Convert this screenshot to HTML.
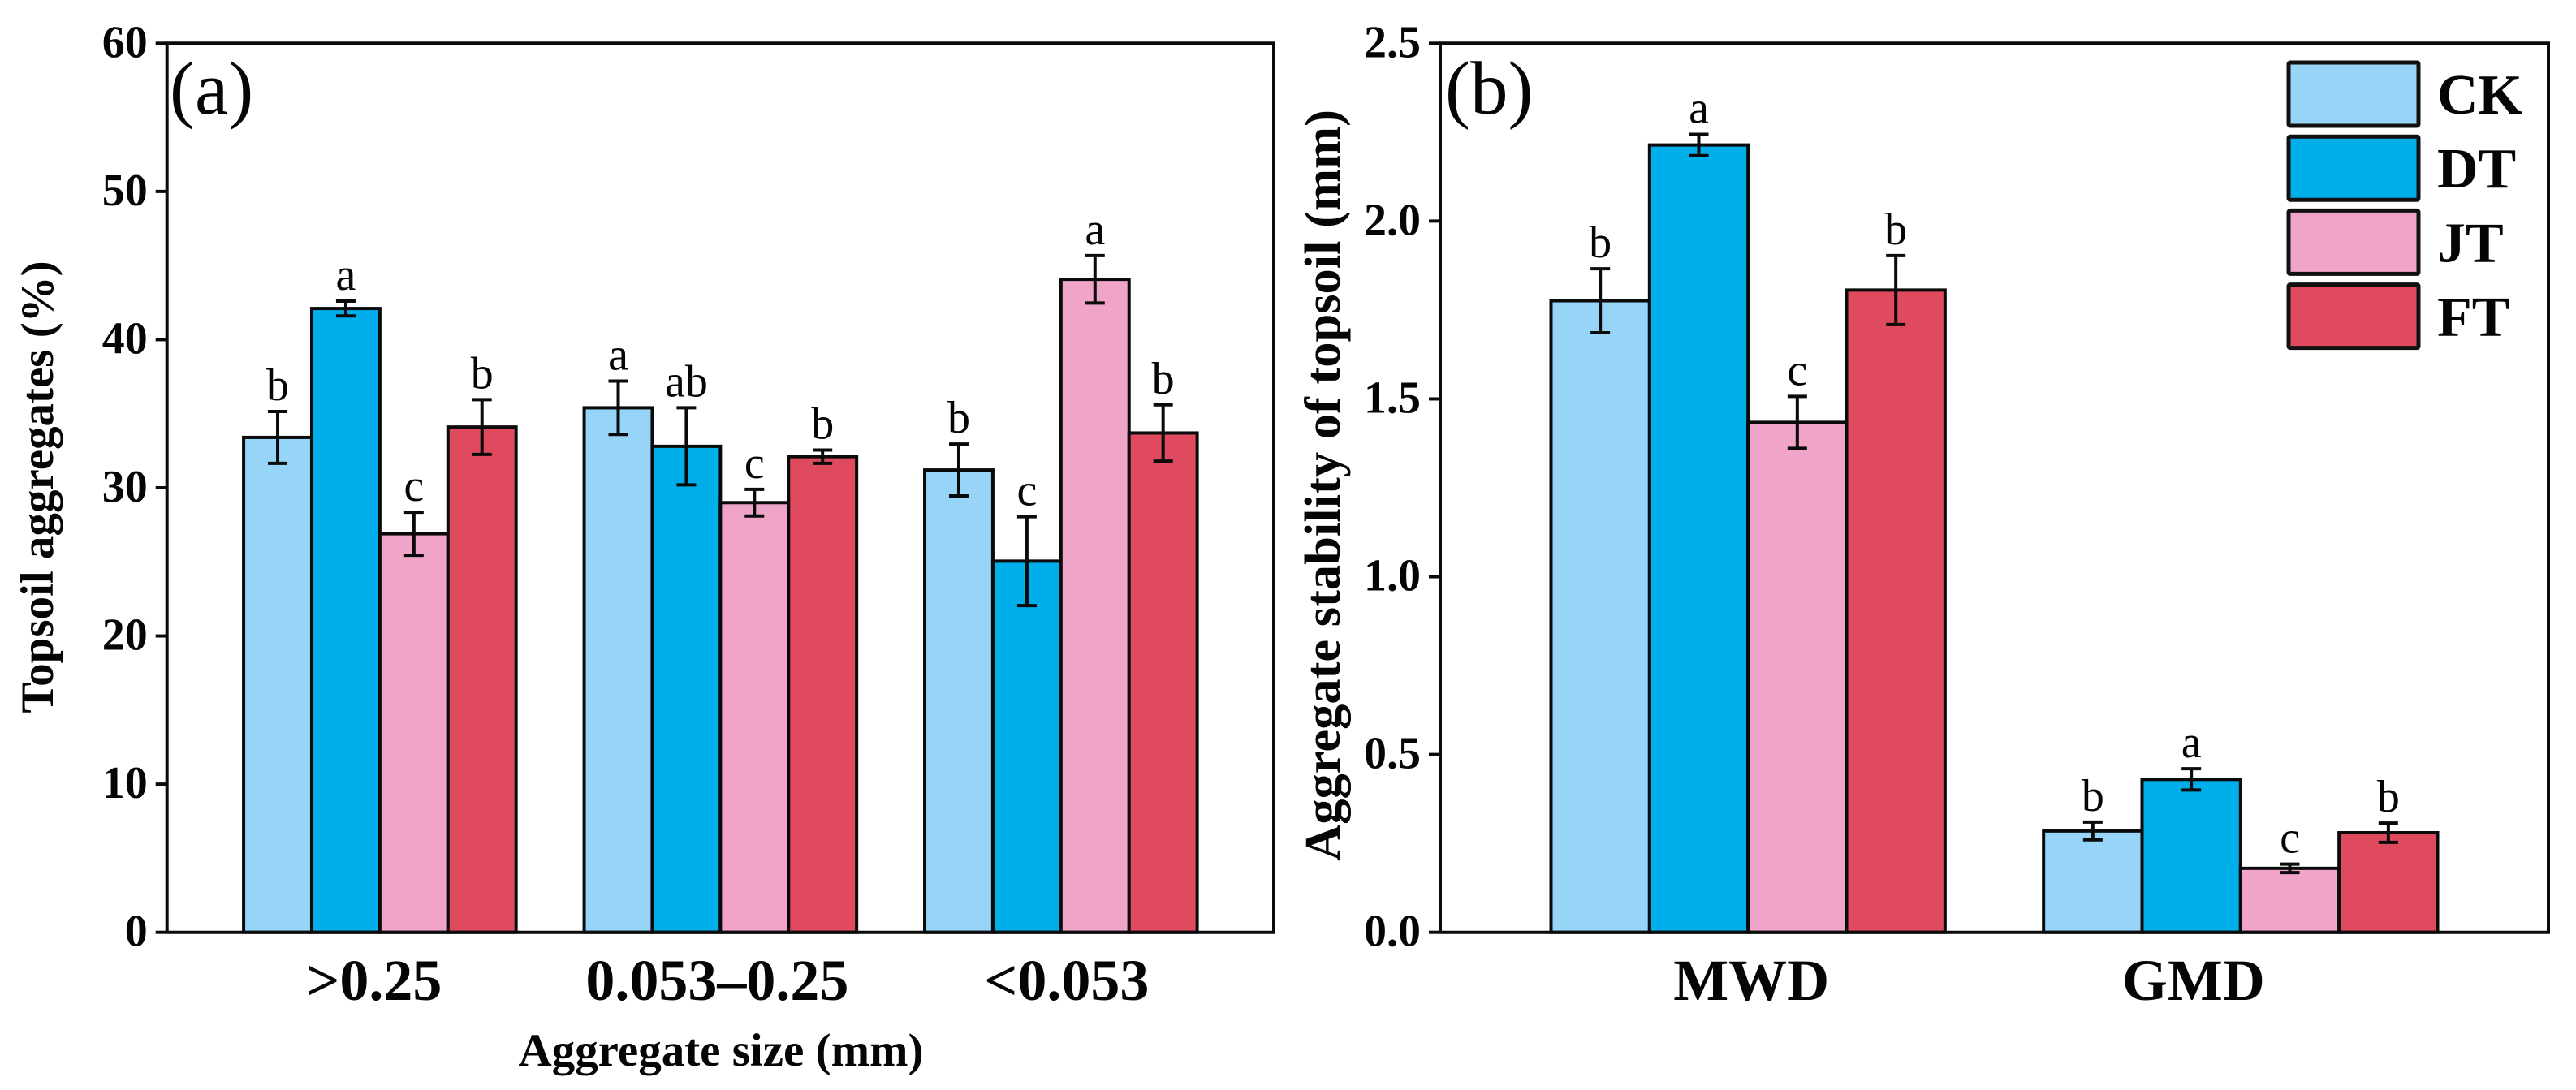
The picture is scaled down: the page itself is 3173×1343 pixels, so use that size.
<!DOCTYPE html>
<html lang="en">
<head>
<meta charset="utf-8">
<title>Topsoil aggregates and aggregate stability</title>
<style>
html,body{margin:0;padding:0;background:#fff;}
svg{display:block;}
text{font-family:"Liberation Serif","Times New Roman",serif;fill:#050505;}
.tick{font-size:56px;font-weight:bold;text-anchor:end;}
.cat{font-size:72px;font-weight:bold;text-anchor:middle;}
.sig{font-size:56px;text-anchor:middle;}
.panel{font-size:93px;}
.legend{font-size:70px;font-weight:bold;}
</style>
</head>
<body>
<svg id="chart" xmlns="http://www.w3.org/2000/svg" width="3173" height="1343" viewBox="0 0 3173 1343">
  <rect x="0" y="0" width="3173" height="1343" fill="#ffffff"/>
  <g id="panel-a">
    <text class="panel" x="209" y="140">(a)</text>
    <text x="888" y="1313" font-size="57" font-weight="bold" text-anchor="middle">Aggregate size (mm)</text>
    <text transform="translate(65 600) rotate(-90)" font-size="57" font-weight="bold" text-anchor="middle">Topsoil aggregates (%)</text>
  </g>
  <g id="panel-b">
    <text class="panel" x="1780" y="140">(b)</text>
    <text transform="translate(1650 598) rotate(-90)" font-size="62.5" font-weight="bold" text-anchor="middle">Aggregate stability of topsoil (mm)</text>
  </g>
  <g id="legend"></g>
</svg>
<script>
const seriesNames = ['CK', 'DT', 'JT', 'FT'];
const seriesColors = ['#96D5F8', '#00AEEA', '#EFA4C8', '#DF4A5E'];

const categoriesA = ['>0.25', '0.053–0.25', '<0.053'];
const tickLabelsA = ['0', '10', '20', '30', '40', '50', '60'];
const valuesACK = [33.4, 35.4, 31.2];
const valuesADT = [42.1, 32.8, 25.05];
const valuesAJT = [26.9, 29.0, 44.07];
const valuesAFT = [34.1, 32.1, 33.7];
const errorsACK = [1.75, 1.8, 1.75];
const errorsADT = [0.5, 2.6, 3.0];
const errorsAJT = [1.45, 0.9, 1.6];
const errorsAFT = [1.85, 0.45, 1.9];
const lettersACK = ['b', 'a', 'b'];
const lettersADT = ['a', 'ab', 'c'];
const lettersAJT = ['c', 'c', 'a'];
const lettersAFT = ['b', 'b', 'b'];

const categoriesB = ['MWD', 'GMD'];
const tickLabelsB = ['0.0', '0.5', '1.0', '1.5', '2.0', '2.5'];
const valuesBCK = [1.776, 0.285];
const valuesBDT = [2.214, 0.43];
const valuesBJT = [1.434, 0.18];
const valuesBFT = [1.806, 0.28];
const errorsBCK = [0.09, 0.025];
const errorsBDT = [0.03, 0.03];
const errorsBJT = [0.073, 0.012];
const errorsBFT = [0.097, 0.027];
const lettersBCK = ['b', 'b'];
const lettersBDT = ['a', 'a'];
const lettersBJT = ['c', 'c'];
const lettersBFT = ['b', 'b'];

const SVG_NS = 'http://www.w3.org/2000/svg';
const PLOT_TOP = 53.3;
const PLOT_BOTTOM = 1148.7;
const STROKE = '#0a0a0a';

function make(parent, tag, attrs, content) {
  const el = document.createElementNS(SVG_NS, tag);
  for (const key in attrs) el.setAttribute(key, attrs[key]);
  if (content !== undefined) el.textContent = content;
  parent.appendChild(el);
  return el;
}

function drawPanel(cfg) {
  const root = document.getElementById(cfg.rootId);
  const band = (cfg.right - cfg.left) / (cfg.categories.length + 0.25);
  const barWidth = band / 5;
  const yScale = function (v) {
    return PLOT_BOTTOM - (v / cfg.maxValue) * (PLOT_BOTTOM - PLOT_TOP);
  };
  const xCenter = function (c) {
    return cfg.left + band * (c + 0.625);
  };
  const xBar = function (c, s) {
    return xCenter(c) + (s - 2) * barWidth;
  };

  cfg.values.forEach(function (seriesValues, s) {
    seriesValues.forEach(function (value, c) {
      const bar = make(root, 'rect', {
        x: xBar(c, s), y: yScale(value), width: barWidth, height: PLOT_BOTTOM - yScale(value),
        fill: seriesColors[s], stroke: STROKE, 'stroke-width': 4
      });
      
      
    });
  });

  cfg.values.forEach(function (seriesValues, s) {
    seriesValues.forEach(function (value, c) {
      const err = cfg.errors[s][c];
      const cx = xBar(c, s) + barWidth / 2;
      const top = yScale(value + err);
      const bottom = yScale(value - err);
      const capHalf = 12;
      const whisker = make(root, 'path', {
        d: 'M' + (cx - capHalf) + ' ' + top + 'H' + (cx + capHalf) +
           'M' + cx + ' ' + top + 'V' + bottom +
           'M' + (cx - capHalf) + ' ' + bottom + 'H' + (cx + capHalf),
        fill: 'none', stroke: STROKE, 'stroke-width': 4
      });
      
      
      const sig = make(root, 'text', { class: 'sig', x: cx, y: top - 14 }, cfg.letters[s][c]);
      
      
    });
  });

  const frame = make(root, 'path', {
    d: 'M' + cfg.left + ' ' + PLOT_BOTTOM + 'V' + PLOT_TOP + 'H' + cfg.right + 'V' + PLOT_BOTTOM + 'H' + cfg.left,
    fill: 'none', stroke: STROKE, 'stroke-width': 4
  });
  
  

  cfg.tickLabels.forEach(function (label) {
    const y = yScale(parseFloat(label));
    const tick = make(root, 'line', {
      x1: cfg.left - 14, x2: cfg.left, y1: y, y2: y, stroke: STROKE, 'stroke-width': 4
    });
    
    
    const text = make(root, 'text', { class: 'tick', x: cfg.left - 24, y: y + 17 }, label);
    
    
  });

  cfg.categories.forEach(function (label, c) {
    const text = make(root, 'text', { class: 'cat', x: xCenter(c) + cfg.catNudge[c], y: 1232 }, label);
    
    
  });
}

drawPanel({
  rootId: 'panel-a', suffix: 'a', left: 205.7, right: 1569, maxValue: 60,
  categories: categoriesA, tickLabels: tickLabelsA,
  values: [valuesACK, valuesADT, valuesAJT, valuesAFT],
  errors: [errorsACK, errorsADT, errorsAJT, errorsAFT],
  letters: [lettersACK, lettersADT, lettersAJT, lettersAFT],
  catNudge: [-7, -4, 7]
});

drawPanel({
  rootId: 'panel-b', suffix: 'b', left: 1774, right: 3139, maxValue: 2.5,
  categories: categoriesB, tickLabels: tickLabelsB,
  values: [valuesBCK, valuesBDT, valuesBJT, valuesBFT],
  errors: [errorsBCK, errorsBDT, errorsBJT, errorsBFT],
  letters: [lettersBCK, lettersBDT, lettersBJT, lettersBFT],
  catNudge: [4, -58]
});

const legendRoot = document.getElementById('legend');
seriesNames.forEach(function (name, s) {
  const top = 77 + s * 91.2;
  const swatch = make(legendRoot, 'rect', {
    x: 2819, y: top, width: 160, height: 78, rx: 2,
    fill: seriesColors[s], stroke: '#111111', 'stroke-width': 5
  });
  
  
  const label = make(legendRoot, 'text', { class: 'legend', x: 3002, y: top + 63 }, name);
  
  
});
</script>
</body>
</html>
